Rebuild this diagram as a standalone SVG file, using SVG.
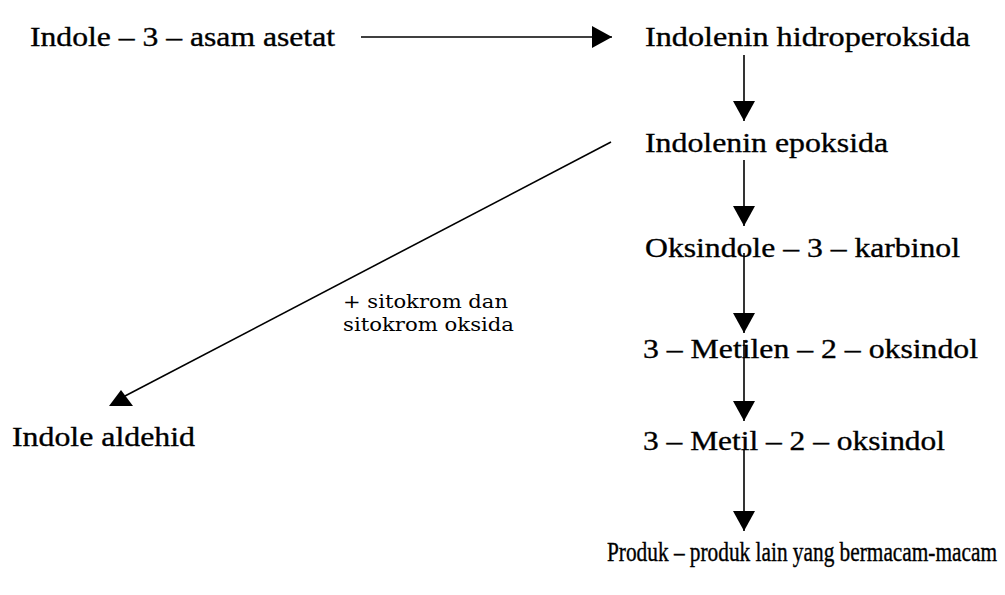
<svg xmlns="http://www.w3.org/2000/svg" width="1005" height="595" viewBox="0 0 1005 595">
<style>
.lbl{font-family:"Liberation Serif","Times New Roman",serif;font-size:28px;fill:#000;stroke:#000;stroke-width:0.35}
.prod{font-family:"Liberation Serif","Times New Roman",serif;font-size:22px;fill:#000;stroke:#000;stroke-width:0.3}
.small{font-family:"DejaVu Serif","Liberation Serif",serif;font-size:18px;fill:#000}
.edge{stroke:#000;stroke-width:1.6;fill:none}
</style>
<defs>
<marker id="arr" markerUnits="userSpaceOnUse" viewBox="0 0 20 22" markerWidth="20" markerHeight="22" refX="20" refY="11" orient="auto">
<path d="M0,0 L20,11 L0,22 Z" fill="#000"/>
</marker>
</defs>
<rect width="1005" height="595" fill="#fff"/>
<g id="connectors">
<line class="edge" x1="361" y1="37" x2="612" y2="37" marker-end="url(#arr)"/>
<line class="edge" x1="744" y1="55" x2="744" y2="121" marker-end="url(#arr)"/>
<line class="edge" x1="744" y1="160" x2="744" y2="226" marker-end="url(#arr)"/>
<line class="edge" x1="744" y1="253" x2="744" y2="333" marker-end="url(#arr)"/>
<line class="edge" x1="744" y1="340" x2="744" y2="421" marker-end="url(#arr)"/>
<line class="edge" x1="744" y1="450" x2="744" y2="531" marker-end="url(#arr)"/>
<polyline class="edge" points="611,142 125,396"/>
<path d="M121,390 L133,406 L109,406 Z" fill="#000"/>
</g>
<g id="n-iaa"><text class="lbl" x="30" y="46" textLength="305" lengthAdjust="spacingAndGlyphs">Indole – 3 – asam asetat</text></g>
<g id="n-hidro"><text class="lbl" x="645" y="46" textLength="325" lengthAdjust="spacingAndGlyphs">Indolenin hidroperoksida</text></g>
<g id="n-epoks"><text class="lbl" x="645" y="152" textLength="243" lengthAdjust="spacingAndGlyphs">Indolenin epoksida</text></g>
<g id="n-karb"><text class="lbl" x="645" y="257" textLength="315" lengthAdjust="spacingAndGlyphs">Oksindole – 3 – karbinol</text></g>
<g id="n-metilen"><text class="lbl" x="643" y="358" textLength="335" lengthAdjust="spacingAndGlyphs">3 – Metilen – 2 – oksindol</text></g>
<g id="n-metil"><text class="lbl" x="643" y="450" textLength="302" lengthAdjust="spacingAndGlyphs">3 – Metil – 2 – oksindol</text></g>
<g id="n-aldehid"><text class="lbl" x="12" y="446" textLength="183" lengthAdjust="spacingAndGlyphs">Indole aldehid</text></g>
<g id="n-produk"><text class="prod" transform="scale(1,1.25)" x="607" y="448.8" textLength="390" lengthAdjust="spacingAndGlyphs">Produk – produk lain yang bermacam-macam</text></g>
<g id="label-sitokrom">
<text class="small" x="343" y="308" textLength="165" lengthAdjust="spacingAndGlyphs">+ sitokrom dan</text>
<text class="small" x="343" y="331" textLength="171" lengthAdjust="spacingAndGlyphs">sitokrom oksida</text>
</g>
</svg>
